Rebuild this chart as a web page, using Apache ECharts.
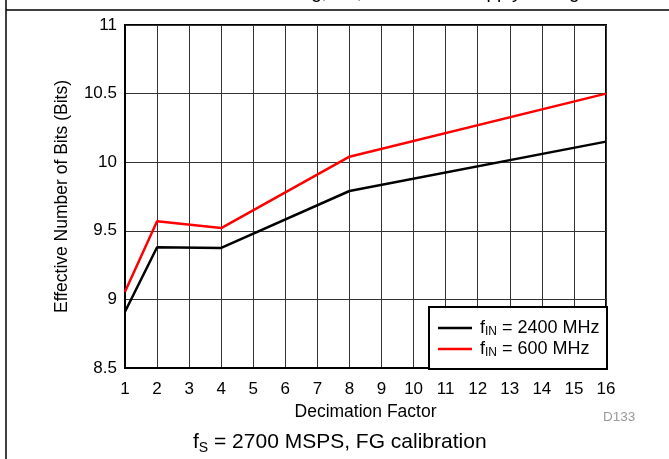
<!DOCTYPE html>
<html>
<head>
<meta charset="utf-8">
<style>
  html, body { margin: 0; padding: 0; background: #fff; }
  #chart { width: 669px; height: 459px; }
</style>
<script src="https://cdn.jsdelivr.net/npm/echarts@6/dist/echarts.min.js"></script>
</head>
<body>
<div id="chart"></div>
<script>
// decimation factors that were measured
const decimation = [1, 2, 4, 8, 16]
// ENOB per input frequency
const enob2400 = [8.91, 9.38, 9.375, 9.79, 10.15]
const enob600 = [9.055, 9.57, 9.52, 10.04, 10.5]
const seriesNames = ['fIN = 2400 MHz', 'fIN = 600 MHz']
const xTicks = [1, 2, 3, 4, 5, 6, 7, 8, 9, 10, 11, 12, 13, 14, 15, 16]
const yTicks = [8.5, 9, 9.5, 10, 10.5, 11]

const font = '"Liberation Sans", Arial, sans-serif'

const chart = echarts.init(document.getElementById('chart'))

chart.setOption({
  animation: false,
  textStyle: { fontFamily: font },
  grid: {
    left: 125,
    right: 63,
    top: 25,
    bottom: 91,
    show: true,
    borderColor: '#000',
    borderWidth: 2
  },
  xAxis: {
    type: 'value',
    min: xTicks[0],
    max: xTicks[xTicks.length - 1],
    interval: 1,
    name: 'Decimation Factor',
    nameLocation: 'middle',
    nameGap: 25,
    nameTextStyle: { color: '#000', fontSize: 17.5, fontFamily: font },
    axisLine: { lineStyle: { color: '#000', width: 2 } },
    axisTick: { show: false },
    axisLabel: { color: '#000', fontSize: 17, margin: 13, fontFamily: font },
    splitLine: { lineStyle: { color: '#333', width: 1 } }
  },
  yAxis: {
    type: 'value',
    min: yTicks[0],
    max: yTicks[yTicks.length - 1],
    interval: 0.5,
    name: 'Effective Number of Bits (Bits)',
    nameLocation: 'middle',
    nameGap: 54,
    nameTextStyle: { color: '#000', fontSize: 17.5, fontFamily: font },
    axisLine: { lineStyle: { color: '#000', width: 2 } },
    axisTick: { show: false },
    axisLabel: { color: '#000', fontSize: 17, margin: 8, fontFamily: font },
    splitLine: { lineStyle: { color: '#333', width: 1 } }
  },
  legend: {
    orient: 'vertical',
    left: 438,
    top: 319,
    icon: 'rect',
    itemWidth: 34,
    itemHeight: 2.5,
    itemGap: 2,
    padding: 0,
    data: seriesNames,
    formatter: function (name) {
      const parts = name.split(' = ')
      return '{f|f}{s|IN}{f| = ' + parts[1] + '}'
    },
    textStyle: {
      color: '#000',
      padding: [0, 0, 0, 3],
      rich: {
        f: { fontSize: 18, fontFamily: font, color: '#000' },
        s: { fontSize: 12, fontFamily: font, color: '#000', verticalAlign: 'bottom', padding: [8, 0, 0, 0] }
      }
    },
    z: 6
  },
  graphic: [
    // outer frame of the figure
    { type: 'line', shape: { x1: 6, y1: 10, x2: 669, y2: 10 }, style: { stroke: '#000', lineWidth: 1.5 } },
    { type: 'line', shape: { x1: 6, y1: 0, x2: 6, y2: 459 }, style: { stroke: '#000', lineWidth: 1.5 } },
    // title, cut off at the top of the picture
    {
      type: 'text', left: 'center', top: -17, z: 5,
      style: { text: 'ENOB vs Decimation Setting, fIN, and Power Supply Voltage', font: '19px ' + font, fill: '#000' }
    },
    // legend box
    {
      type: 'rect', left: 428, top: 306, z: 5,
      shape: { width: 178, height: 62 },
      style: { fill: '#fff', stroke: '#000', lineWidth: 2 }
    },
    {
      type: 'text', left: 603, top: 410,
      style: { text: 'D133', font: '13.5px ' + font, fill: '#999' }
    },
    {
      type: 'text', left: 193, top: 432,
      style: {
        text: '{f|f}{s|S}{f| = 2700 MSPS, FG calibration}',
        rich: {
          f: { fontSize: 21, fontFamily: font, fill: '#000' },
          s: { fontSize: 14, fontFamily: font, fill: '#000', verticalAlign: 'bottom', padding: [11, 0, 0, 0] }
        }
      }
    }
  ],
  series: [
    {
      name: seriesNames[0],
      type: 'line',
      symbol: 'none',
      lineStyle: { color: '#000', width: 2.5 },
      itemStyle: { color: '#000' },
      data: decimation.map((d, i) => [d, enob2400[i]])
    },
    {
      name: seriesNames[1],
      type: 'line',
      symbol: 'none',
      lineStyle: { color: '#ff0000', width: 2.5 },
      itemStyle: { color: '#ff0000' },
      data: decimation.map((d, i) => [d, enob600[i]])
    }
  ]
})
</script>
</body>
</html>
